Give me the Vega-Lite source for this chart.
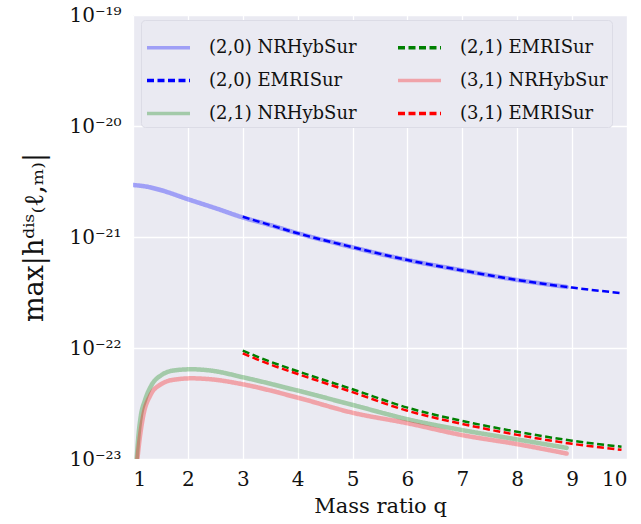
{
  "$schema": "https://vega.github.io/schema/vega-lite/v6.json",
  "width": 494,
  "height": 444,
  "autosize": "none",
  "padding": {"left": 133, "top": 15, "right": 14, "bottom": 65},
  "background": "white",
  "config": {
    "view": {"fill": "#EAEAF2", "stroke": null},
    "font": "DejaVu Serif",
    "axis": {
      "domain": false,
      "ticks": false,
      "grid": true,
      "gridColor": "white",
      "gridWidth": 1.3,
      "labelFont": "DejaVu Serif",
      "labelFontSize": 20,
      "labelColor": "#111",
      "titleFont": "DejaVu Serif",
      "titleFontWeight": "normal",
      "titleColor": "#111"
    },
    "legend": {
      "orient": "none",
      "legendX": 8,
      "legendY": 5,
      "columns": 2,
      "symbolType": "stroke",
      "symbolSize": 1849,
      "symbolStrokeWidth": 3.5,
      "labelFont": "DejaVu Serif",
      "labelFontSize": 18,
      "labelColor": "#111",
      "labelLimit": 400,
      "labelOffset": 17,
      "fillColor": "#EAEAF2",
      "strokeColor": "#DCDCE6",
      "cornerRadius": 4,
      "padding": 4,
      "rowPadding": -11.5,
      "columnPadding": 34
    }
  },
  "data": {
    "values": [
      {"series": "(2,0) NRHybSur", "q": 1.0, "h": 2.94e-21},
      {"series": "(2,0) NRHybSur", "q": 1.25, "h": 2.84e-21},
      {"series": "(2,0) NRHybSur", "q": 1.5, "h": 2.65e-21},
      {"series": "(2,0) NRHybSur", "q": 2.0, "h": 2.19e-21},
      {"series": "(2,0) NRHybSur", "q": 2.5, "h": 1.82e-21},
      {"series": "(2,0) NRHybSur", "q": 3.0, "h": 1.50e-21},
      {"series": "(2,0) NRHybSur", "q": 3.5, "h": 1.28e-21},
      {"series": "(2,0) NRHybSur", "q": 4.0, "h": 1.08e-21},
      {"series": "(2,0) NRHybSur", "q": 4.5, "h": 9.3e-22},
      {"series": "(2,0) NRHybSur", "q": 5.0, "h": 8.07e-22},
      {"series": "(2,0) NRHybSur", "q": 5.5, "h": 7.03e-22},
      {"series": "(2,0) NRHybSur", "q": 6.0, "h": 6.2e-22},
      {"series": "(2,0) NRHybSur", "q": 7.0, "h": 5.0e-22},
      {"series": "(2,0) NRHybSur", "q": 8.0, "h": 4.1e-22},
      {"series": "(2,0) NRHybSur", "q": 8.9, "h": 3.55e-22},

      {"series": "(2,1) NRHybSur", "q": 1.067, "h": 1.0e-23},
      {"series": "(2,1) NRHybSur", "q": 1.097, "h": 1.58e-23},
      {"series": "(2,1) NRHybSur", "q": 1.14, "h": 2.4e-23},
      {"series": "(2,1) NRHybSur", "q": 1.22, "h": 3.4e-23},
      {"series": "(2,1) NRHybSur", "q": 1.34, "h": 4.65e-23},
      {"series": "(2,1) NRHybSur", "q": 1.52, "h": 5.71e-23},
      {"series": "(2,1) NRHybSur", "q": 1.77, "h": 6.3e-23},
      {"series": "(2,1) NRHybSur", "q": 2.07, "h": 6.43e-23},
      {"series": "(2,1) NRHybSur", "q": 2.43, "h": 6.25e-23},
      {"series": "(2,1) NRHybSur", "q": 3.0, "h": 5.45e-23},
      {"series": "(2,1) NRHybSur", "q": 4.0, "h": 4.13e-23},
      {"series": "(2,1) NRHybSur", "q": 5.0, "h": 3.07e-23},
      {"series": "(2,1) NRHybSur", "q": 6.0, "h": 2.28e-23},
      {"series": "(2,1) NRHybSur", "q": 7.0, "h": 1.82e-23},
      {"series": "(2,1) NRHybSur", "q": 8.0, "h": 1.5e-23},
      {"series": "(2,1) NRHybSur", "q": 8.9, "h": 1.26e-23},

      {"series": "(3,1) NRHybSur", "q": 1.08, "h": 1.0e-23},
      {"series": "(3,1) NRHybSur", "q": 1.12, "h": 1.5e-23},
      {"series": "(3,1) NRHybSur", "q": 1.19, "h": 2.5e-23},
      {"series": "(3,1) NRHybSur", "q": 1.31, "h": 3.7e-23},
      {"series": "(3,1) NRHybSur", "q": 1.52, "h": 4.75e-23},
      {"series": "(3,1) NRHybSur", "q": 1.77, "h": 5.2e-23},
      {"series": "(3,1) NRHybSur", "q": 2.07, "h": 5.33e-23},
      {"series": "(3,1) NRHybSur", "q": 2.43, "h": 5.22e-23},
      {"series": "(3,1) NRHybSur", "q": 3.0, "h": 4.71e-23},
      {"series": "(3,1) NRHybSur", "q": 4.0, "h": 3.57e-23},
      {"series": "(3,1) NRHybSur", "q": 5.0, "h": 2.61e-23},
      {"series": "(3,1) NRHybSur", "q": 6.0, "h": 2.1e-23},
      {"series": "(3,1) NRHybSur", "q": 7.0, "h": 1.64e-23},
      {"series": "(3,1) NRHybSur", "q": 8.0, "h": 1.36e-23},
      {"series": "(3,1) NRHybSur", "q": 8.9, "h": 1.12e-23},

      {"series": "(2,0) EMRISur", "q": 3.0, "h": 1.52e-21},
      {"series": "(2,0) EMRISur", "q": 3.5, "h": 1.28e-21},
      {"series": "(2,0) EMRISur", "q": 4.0, "h": 1.08e-21},
      {"series": "(2,0) EMRISur", "q": 4.5, "h": 9.3e-22},
      {"series": "(2,0) EMRISur", "q": 5.0, "h": 8.1e-22},
      {"series": "(2,0) EMRISur", "q": 6.0, "h": 6.2e-22},
      {"series": "(2,0) EMRISur", "q": 7.0, "h": 5.0e-22},
      {"series": "(2,0) EMRISur", "q": 8.0, "h": 4.1e-22},
      {"series": "(2,0) EMRISur", "q": 9.0, "h": 3.5e-22},
      {"series": "(2,0) EMRISur", "q": 9.9, "h": 3.12e-22},

      {"series": "(2,1) EMRISur", "q": 3.0, "h": 9.46e-23},
      {"series": "(2,1) EMRISur", "q": 3.5, "h": 7.53e-23},
      {"series": "(2,1) EMRISur", "q": 4.0, "h": 6.17e-23},
      {"series": "(2,1) EMRISur", "q": 5.0, "h": 4.25e-23},
      {"series": "(2,1) EMRISur", "q": 6.0, "h": 2.9e-23},
      {"series": "(2,1) EMRISur", "q": 7.0, "h": 2.2e-23},
      {"series": "(2,1) EMRISur", "q": 8.0, "h": 1.76e-23},
      {"series": "(2,1) EMRISur", "q": 9.0, "h": 1.46e-23},
      {"series": "(2,1) EMRISur", "q": 9.9, "h": 1.29e-23},

      {"series": "(3,1) EMRISur", "q": 3.0, "h": 8.95e-23},
      {"series": "(3,1) EMRISur", "q": 3.5, "h": 7.1e-23},
      {"series": "(3,1) EMRISur", "q": 4.0, "h": 5.83e-23},
      {"series": "(3,1) EMRISur", "q": 5.0, "h": 4.0e-23},
      {"series": "(3,1) EMRISur", "q": 6.0, "h": 2.72e-23},
      {"series": "(3,1) EMRISur", "q": 7.0, "h": 2.07e-23},
      {"series": "(3,1) EMRISur", "q": 8.0, "h": 1.65e-23},
      {"series": "(3,1) EMRISur", "q": 9.0, "h": 1.37e-23},
      {"series": "(3,1) EMRISur", "q": 9.9, "h": 1.21e-23}
    ]
  },
  "encoding": {
    "x": {
      "field": "q",
      "type": "quantitative",
      "scale": {"domain": [1, 10], "nice": false, "zero": false},
      "axis": {"values": [1, 2, 3, 4, 5, 6, 7, 8, 9, 10], "labelPadding": 10, "title": "Mass ratio q", "titleFontSize": 21, "titlePadding": 6}
    },
    "y": {
      "field": "h",
      "type": "quantitative",
      "scale": {"type": "log", "domain": [1e-23, 1e-19], "nice": false},
      "axis": {
        "values": [1e-23, 1e-22, 1e-21, 1e-20, 1e-19],
        "labelExpr": "'10' + ['⁻¹⁹', '⁻²⁰', '⁻²¹', '⁻²²', '⁻²³'][-19 - round(log(datum.value) / LN10)]",
        "labelPadding": 12,
        "title": "max|hᵈⁱˢ₍ℓ,ₘ₎|",
        "titleFontSize": 27,
        "titlePadding": 20
      }
    },
    "color": {
      "field": "series",
      "type": "nominal",
      "title": null,
      "scale": {
        "domain": ["(2,0) NRHybSur", "(2,0) EMRISur", "(2,1) NRHybSur", "(2,1) EMRISur", "(3,1) NRHybSur", "(3,1) EMRISur"],
        "range": ["rgba(0,0,255,0.32)", "#0000FF", "rgba(0,128,0,0.3)", "#008000", "rgba(255,0,0,0.3)", "#FF0000"]
      }
    },
    "strokeDash": {
      "field": "series",
      "type": "nominal",
      "title": null,
      "scale": {
        "domain": ["(2,0) NRHybSur", "(2,0) EMRISur", "(2,1) NRHybSur", "(2,1) EMRISur", "(3,1) NRHybSur", "(3,1) EMRISur"],
        "range": [[1, 0], [7, 3.5], [1, 0], [7, 3.5], [1, 0], [7, 3.5]]
      }
    }
  },
  "layer": [
    {
      "transform": [{"filter": "indexof(datum.series, 'NRHybSur') >= 0"}],
      "mark": {"type": "line", "clip": true, "interpolate": "monotone", "strokeWidth": 4.5, "strokeCap": "round"}
    },
    {
      "transform": [{"filter": "indexof(datum.series, 'EMRISur') >= 0"}],
      "mark": {"type": "line", "clip": true, "interpolate": "monotone", "strokeWidth": 2.5}
    }
  ]
}
